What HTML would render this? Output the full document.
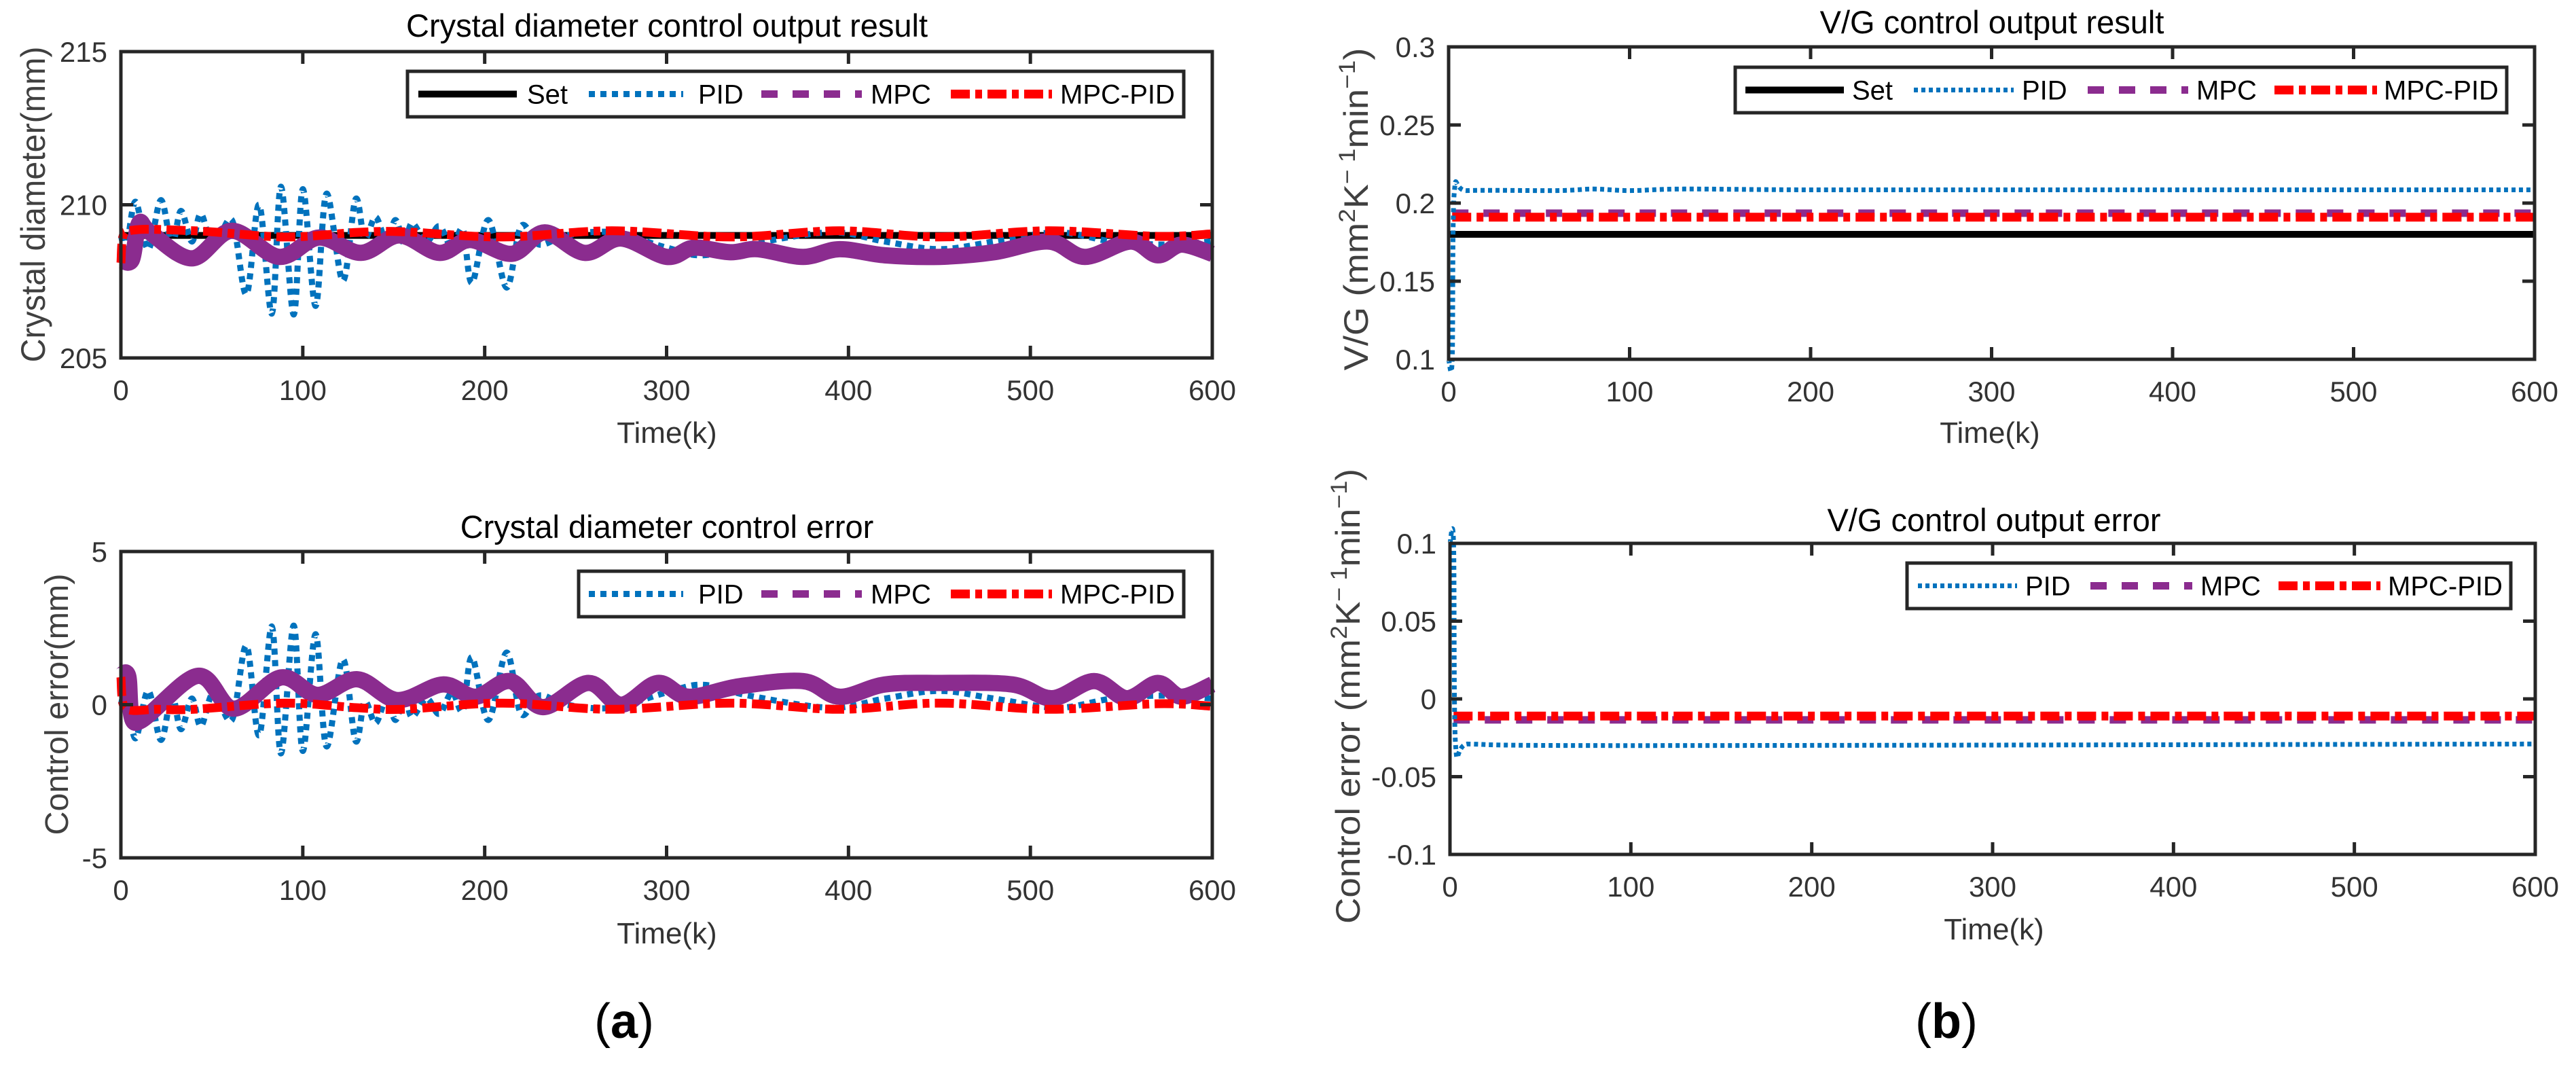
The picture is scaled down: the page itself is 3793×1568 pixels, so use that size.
<!DOCTYPE html>
<html><head><meta charset="utf-8">
<style>
html,body{margin:0;padding:0;background:#fff;}
svg{display:block;}
text{font-family:"Liberation Sans",Arial,sans-serif;}
</style></head>
<body>
<svg id="fig" width="3793" height="1568" viewBox="0 0 3793 1568" xmlns="http://www.w3.org/2000/svg"></svg>
<script>
// ---------- DATA ----------
const xTicks = [0,100,200,300,400,500,600];
// (a) top: crystal diameter output
const diamYTicks = [205,210,215];
const diamSetK = [0,600];
const diamSetV = [209,209];
const diamPidK = [0,3,8,15,22,28,33,39,44,51,61,69,76,83,88,95,100,107,113,122,129,134,140,146,151,156,160,168,175,182,188,193,202,212,220,230,245,270,300,320,345,390,420,450,480,515,545,575,600];
const diamPidV = [209,208.6,210.1,208.55,210.15,208.7,209.8,208.8,209.7,208.6,209.5,207.08,210.0,206.45,210.59,206.42,210.51,206.7,210.36,207.52,210.18,208.9,209.6,208.8,209.5,208.7,209.4,208.8,209.3,208.6,209.2,207.45,209.5,207.3,209.3,208.7,209.0,209.1,208.6,208.35,208.7,209.1,208.8,208.55,208.8,209.1,208.8,208.7,208.8];
const diamMpcK = [0,6,10,16,39,61,87,109,132,153,175,192,215,233,255,275,300,315,335,350,375,395,420,450,480,510,530,555,570,583,600];
const diamMpcV = [208.2,208.2,209.4,209.1,208.25,209.15,208.3,208.93,208.43,209.0,208.43,208.85,208.4,209.1,208.43,208.9,208.3,208.6,208.45,208.55,208.3,208.55,208.35,208.3,208.45,208.8,208.3,208.8,208.35,208.7,208.4];
const diamMpcPidK = [0,2,40,90,130,155,210,270,335,395,450,510,570,600];
const diamMpcPidV = [208.1,209.1,209.15,208.95,209.1,209.12,208.95,209.15,208.95,209.15,208.95,209.15,208.97,209.05];
// (a) bottom: crystal diameter error
const errYTicks = [-5,0,5];
const errPidK = [0,3,8,15,22,28,33,39,44,51,61,69,76,83,88,95,100,107,113,122,129,134,140,146,151,156,160,168,175,182,188,193,202,212,220,230,245,270,300,320,345,390,420,450,480,515,545,575,600];
const errPidV = [0,0.4,-1.1,0.45,-1.15,0.3,-0.8,0.2,-0.7,0.4,-0.5,1.92,-1.0,2.55,-1.59,2.58,-1.51,2.3,-1.36,1.48,-1.18,0.1,-0.6,0.2,-0.5,0.3,-0.4,0.2,-0.3,0.4,-0.2,1.55,-0.5,1.7,-0.3,0.3,0,-0.1,0.4,0.65,0.3,-0.1,0.2,0.45,0.2,-0.1,0.2,0.3,0.2];
const errMpcK = [0,4,8,42,62,88,108,130,152,177,195,214,232,257,275,295,312,340,375,395,420,450,490,512,535,553,570,583,600];
const errMpcV = [0.94,0.94,-0.59,0.94,-0.13,0.89,0.32,0.83,0.15,0.66,0.26,0.77,-0.08,0.71,0,0.71,0.26,0.6,0.77,0.26,0.66,0.71,0.66,0.21,0.77,0.21,0.71,0.26,0.66];
const errMpcPidK = [0,2,20,40,90,130,155,210,270,335,395,450,510,570,600];
const errMpcPidV = [0.9,-0.1,-0.15,-0.15,0.05,-0.1,-0.15,0.05,-0.15,0.05,-0.15,0.05,-0.15,0.03,-0.05];
// (b) top: V/G output
const vgYTicks = [0.1,0.15,0.2,0.25,0.3];
const vgYTickLabels = ["0.1","0.15","0.2","0.25","0.3"];
const vgSetK = [0,600];
const vgSetV = [0.18,0.18];
const vgPidK = [0,2,3,10,60,80,100,130,200,340,600];
const vgPidV = [0.1,0.1,0.205,0.208,0.208,0.209,0.208,0.209,0.2085,0.2085,0.2085];
const vgMpcK = [2,600];
const vgMpcV = [0.1935,0.1935];
const vgMpcPidK = [2,600];
const vgMpcPidV = [0.191,0.191];
// (b) bottom: V/G error
const vgeYTicks = [-0.1,-0.05,0,0.05,0.1];
const vgeYTickLabels = ["-0.1","-0.05","0","0.05","0.1"];
const vgePidK = [0,2,3,10,100,600];
const vgePidV = [0.1,0.1,-0.028,-0.029,-0.03,-0.029];
const vgeMpcK = [2,600];
const vgeMpcV = [-0.0135,-0.0135];
const vgeMpcPidK = [2,600];
const vgeMpcPidV = [-0.011,-0.011];

// ---------- DRAWING ----------
const NS = "http://www.w3.org/2000/svg";
const svg = document.getElementById('fig');
function el(tag, attrs, parent, name, inter){
  const e = document.createElementNS(NS, tag);
  for (const k in attrs) e.setAttribute(k, attrs[k]);
  
  
  (parent || svg).appendChild(e);
  return e;
}
function txt(s, x, y, size, anchor, parent, name, extra){
  const a = Object.assign({x:x, y:y, 'font-size':size, 'text-anchor':anchor||'middle', fill:'#333333'}, extra||{});
  const t = el('text', a, parent, name, false);
  t.textContent = s;
  return t;
}
function mkAxis(x0,x1,y0,y1,ymin,ymax){
  return {x0,x1,y0,y1,ymin,ymax,
    sx:k=>x0+(k-0)/600*(x1-x0),
    sy:v=>y1-(v-ymin)/(ymax-ymin)*(y1-y0)};
}
function pathFrom(ax, ks, vs){
  const p = ks.map((k,i)=>[ax.sx(k), ax.sy(vs[i])]);
  let d = 'M'+p[0][0].toFixed(1)+','+p[0][1].toFixed(1);
  for (let i=0;i<p.length-1;i++){
    const p0=p[Math.max(0,i-1)], p1=p[i], p2=p[i+1], p3=p[Math.min(p.length-1,i+2)];
    const c1=[p1[0]+(p2[0]-p0[0])/6, p1[1]+(p2[1]-p0[1])/6];
    const c2=[p2[0]-(p3[0]-p1[0])/6, p2[1]-(p3[1]-p1[1])/6];
    c1[0]=Math.min(Math.max(c1[0],p1[0]),p2[0]);
    c2[0]=Math.min(Math.max(c2[0],p1[0]),p2[0]);
    d+=' C'+c1[0].toFixed(1)+','+c1[1].toFixed(1)+' '+c2[0].toFixed(1)+','+c2[1].toFixed(1)+' '+p2[0].toFixed(1)+','+p2[1].toFixed(1);
  }
  return d;
}
const STY = {
  set:{stroke:'#000000','stroke-width':10,fill:'none'},
  pid:{stroke:'#0072BD','stroke-width':9,fill:'none','stroke-dasharray':'9 8'},
  mpcThick:{stroke:'#8B2C8F','stroke-width':24,fill:'none','stroke-linejoin':'round'},
  mpc:{stroke:'#8B2C8F','stroke-width':11,fill:'none','stroke-dasharray':'24 22'},
  mpcpid:{stroke:'#FF0000','stroke-width':13,fill:'none','stroke-dasharray':'28 8 10 8'}
};
const PIDTHIN = Object.assign({}, STY.pid, {'stroke-width':7,'stroke-dasharray':'6 5'});
function series(ax, ks, vs, style, g, name){
  const a = Object.assign({d:pathFrom(ax,ks,vs)}, style);
  el('path', a, g, name, false);
}
function frame(ax, g, yTicks, yLabels, prefix){
  xTicks.forEach((k,i)=>{
    const x=ax.sx(k);
    el('line',{x1:x,y1:ax.y1,x2:x,y2:ax.y1-18,stroke:'#262626','stroke-width':5},g,prefix+'-x-tick',false);
    el('line',{x1:x,y1:ax.y0,x2:x,y2:ax.y0+18,stroke:'#262626','stroke-width':5},g,prefix+'-x-tick-top',false);
    txt(String(k), x, ax.y1+62, 42, 'middle', g, prefix+'-x-tick-label');
  });
  yTicks.forEach((v,i)=>{
    const y=ax.sy(v);
    el('line',{x1:ax.x0,y1:y,x2:ax.x0+18,y2:y,stroke:'#262626','stroke-width':5},g,prefix+'-y-tick',false);
    el('line',{x1:ax.x1,y1:y,x2:ax.x1-18,y2:y,stroke:'#262626','stroke-width':5},g,prefix+'-y-tick-right',false);
    txt(yLabels[i], ax.x0-20, y+15, 42, 'end', g, prefix+'-y-tick-label');
  });
  el('rect',{x:ax.x0,y:ax.y0,width:ax.x1-ax.x0,height:ax.y1-ax.y0,fill:'none',stroke:'#262626','stroke-width':5},g,prefix+'-axes-box',false);
}
function legend(g, bx, by, bw, bh, entries, prefix){
  el('rect',{x:bx,y:by,width:bw,height:bh,fill:'#fff',stroke:'#262626','stroke-width':5},g,prefix+'-legend-box',false);
  const cy = by+bh/2;
  entries.forEach(e=>{
    const st = Object.assign({}, e.style);
    el('line',Object.assign({x1:e.lx1,y1:cy,x2:e.lx2,y2:cy},st),g,prefix+'-legend-swatch-'+e.key,false);
    txt(e.label, e.tx, cy+14, 40, 'start', g, prefix+'-legend-label-'+e.key, {fill:'#000'});
  });
}
function ylabel(g, s, cx, cy, len, size, name){
  const t = el('text',{x:0,y:0,'font-size':size,'text-anchor':'middle',fill:'#404040',
    transform:'translate('+cx+','+cy+') rotate(-90)', textLength:len, lengthAdjust:'spacingAndGlyphs',
    'font-family':'"DejaVu Sans",sans-serif'}, g, name, false);
  t.textContent = s;
  return t;
}
function ylabelUnits(g, pre, cx, cy, len, name){
  const t = el('text',{x:0,y:0,'font-size':50,'text-anchor':'middle',fill:'#404040',
    transform:'translate('+cx+','+cy+') rotate(-90)', textLength:len, lengthAdjust:'spacingAndGlyphs',
    'font-family':'"DejaVu Sans",sans-serif'}, g, name, false);
  const parts = [[pre+' (mm',0],['2',1],['K',0],['\u2212 1',1],['min',0],['\u22121',1],[')',0]];
  parts.forEach(p=>{
    const s = document.createElementNS(NS,'tspan');
    s.textContent = p[0];
    if (p[1]) { s.setAttribute('baseline-shift','super'); s.setAttribute('font-size','34'); }
    t.appendChild(s);
  });
}

// ===== Panel (a) top =====
const gA1 = el('g',{},svg,'diameter-output-chart',false);
const axA1 = mkAxis(178,1785,76,527,205,215);
series(axA1, diamSetK, diamSetV, STY.set, gA1, 'series-set');
series(axA1, diamPidK, diamPidV, STY.pid, gA1, 'series-pid');
series(axA1, diamMpcK, diamMpcV, STY.mpcThick, gA1, 'series-mpc');
series(axA1, diamMpcPidK, diamMpcPidV, STY.mpcpid, gA1, 'series-mpc-pid');
frame(axA1, gA1, diamYTicks, diamYTicks.map(String), 'diameter-output');
txt('Crystal diameter control output result', 982, 54, 47, 'middle', gA1, 'chart-title', {fill:'#000'});
txt('Time(k)', 982, 652, 44, 'middle', gA1, 'x-axis-title');
ylabel(gA1, 'Crystal diameter(mm)', 66, 301, 465, 50, 'y-axis-title');
legend(gA1, 600,105,1143,67,[
  {key:'set',label:'Set',lx1:616,lx2:761,tx:776,style:STY.set},
  {key:'pid',label:'PID',lx1:867,lx2:1006,tx:1028,style:STY.pid},
  {key:'mpc',label:'MPC',lx1:1121,lx2:1269,tx:1282,style:STY.mpc},
  {key:'mpc-pid',label:'MPC-PID',lx1:1400,lx2:1549,tx:1561,style:STY.mpcpid}
],'diameter-output');

// ===== Panel (a) bottom =====
const gA2 = el('g',{},svg,'diameter-error-chart',false);
const axA2 = mkAxis(178,1785,812,1263,-5,5);
series(axA2, errPidK, errPidV, STY.pid, gA2, 'series-pid');
series(axA2, errMpcK, errMpcV, STY.mpcThick, gA2, 'series-mpc');
series(axA2, errMpcPidK, errMpcPidV, STY.mpcpid, gA2, 'series-mpc-pid');
frame(axA2, gA2, errYTicks, errYTicks.map(String), 'diameter-error');
txt('Crystal diameter control error', 982, 792, 47, 'middle', gA2, 'chart-title', {fill:'#000'});
txt('Time(k)', 982, 1389, 44, 'middle', gA2, 'x-axis-title');
ylabel(gA2, 'Control error(mm)', 100, 1037, 385, 48, 'y-axis-title');
legend(gA2, 852,841,891,67,[
  {key:'pid',label:'PID',lx1:867,lx2:1006,tx:1028,style:STY.pid},
  {key:'mpc',label:'MPC',lx1:1121,lx2:1269,tx:1282,style:STY.mpc},
  {key:'mpc-pid',label:'MPC-PID',lx1:1400,lx2:1549,tx:1561,style:STY.mpcpid}
],'diameter-error');

// ===== Panel (b) top =====
const gB1 = el('g',{},svg,'vg-output-chart',false);
const axB1 = mkAxis(2133,3732,69,529,0.1,0.3);
series(axB1, vgSetK, vgSetV, STY.set, gB1, 'series-set');
series(axB1, vgMpcK, vgMpcV, STY.mpc, gB1, 'series-mpc');
series(axB1, vgMpcPidK, vgMpcPidV, STY.mpcpid, gB1, 'series-mpc-pid');
series(axB1, vgPidK, vgPidV, PIDTHIN, gB1, 'series-pid');
frame(axB1, gB1, vgYTicks, vgYTickLabels, 'vg-output');
txt('V/G control output result', 2933, 49, 47, 'middle', gB1, 'chart-title', {fill:'#000'});
txt('Time(k)', 2930, 652, 44, 'middle', gB1, 'x-axis-title');
ylabelUnits(gB1, 'V/G', 2014, 308, 475, 'y-axis-title');
legend(gB1, 2555,99,1136,67,[
  {key:'set',label:'Set',lx1:2570,lx2:2715,tx:2727,style:STY.set},
  {key:'pid',label:'PID',lx1:2818,lx2:2965,tx:2977,style:PIDTHIN},
  {key:'mpc',label:'MPC',lx1:3074,lx2:3222,tx:3234,style:STY.mpc},
  {key:'mpc-pid',label:'MPC-PID',lx1:3349,lx2:3500,tx:3510,style:STY.mpcpid}
],'vg-output');

// ===== Panel (b) bottom =====
const gB2 = el('g',{},svg,'vg-error-chart',false);
const axB2 = mkAxis(2135,3733,800,1258,-0.1,0.1);
series(axB2, vgeMpcK, vgeMpcV, STY.mpc, gB2, 'series-mpc');
series(axB2, vgeMpcPidK, vgeMpcPidV, STY.mpcpid, gB2, 'series-mpc-pid');
series(axB2, vgePidK, vgePidV, PIDTHIN, gB2, 'series-pid');
frame(axB2, gB2, vgeYTicks, vgeYTickLabels, 'vg-error');
txt('V/G control output error', 2936, 782, 47, 'middle', gB2, 'chart-title', {fill:'#000'});
txt('Time(k)', 2936, 1383, 44, 'middle', gB2, 'x-axis-title');
ylabelUnits(gB2, 'Control error', 2002, 1025, 670, 'y-axis-title');
legend(gB2, 2808,829,889,67,[
  {key:'pid',label:'PID',lx1:2824,lx2:2970,tx:2982,style:PIDTHIN},
  {key:'mpc',label:'MPC',lx1:3078,lx2:3228,tx:3240,style:STY.mpc},
  {key:'mpc-pid',label:'MPC-PID',lx1:3355,lx2:3505,tx:3516,style:STY.mpcpid}
],'vg-error');

// panel labels
function panelLabel(letter, x, name){
  const t = el('text',{x:x,y:1528,'font-size':72,'text-anchor':'middle',fill:'#000','font-family':'"Liberation Serif",serif'},svg,name,false);
  const a = document.createElementNS(NS,'tspan'); a.textContent='(';
  const b = document.createElementNS(NS,'tspan'); b.textContent=letter; b.setAttribute('font-weight','bold');
  const c = document.createElementNS(NS,'tspan'); c.textContent=')';
  t.appendChild(a); t.appendChild(b); t.appendChild(c);
}
panelLabel('a', 919, 'panel-label-a');
panelLabel('b', 2866, 'panel-label-b');
</script>
</body></html>
